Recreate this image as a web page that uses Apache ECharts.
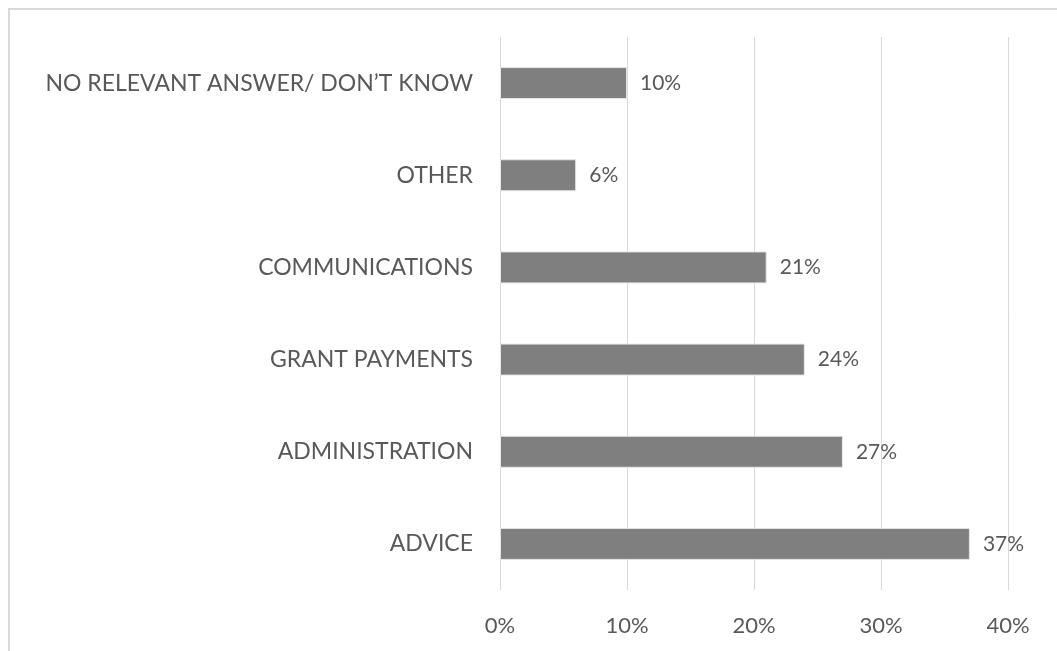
<!DOCTYPE html>
<html>
<head>
<meta charset="utf-8">
<script src="https://cdn.jsdelivr.net/npm/echarts@6/dist/echarts.min.js"></script>
<style>
  html, body { margin: 0; padding: 0; background: #fff; }
  #chart { width: 1057px; height: 651px; }
</style>
</head>
<body>
<div id="chart"></div>
<script>
// Categories listed bottom-to-top (ECharts category y-axis starts at the bottom)
const categories = [
  'ADVICE',
  'ADMINISTRATION',
  'GRANT PAYMENTS',
  'COMMUNICATIONS',
  'OTHER',
  'NO RELEVANT ANSWER/ DON\u2019T KNOW'
];
// Share of responses, in percent
const values = [37, 27, 24, 21, 6, 10];
// Value axis ticks, in percent
const tickValues = [0, 10, 20, 30, 40];

const textColor = '#595959';
const fontFamily = 'Lato, "Open Sans", sans-serif';

const chart = echarts.init(document.getElementById('chart'), null, { renderer: 'canvas' });

chart.setOption({
  animation: false,
  backgroundColor: '#ffffff',
  graphic: [{
    type: 'rect',
    shape: { x: 9, y: 9, width: 1200, height: 800 },
    style: { fill: 'none', stroke: '#d9d9d9', lineWidth: 2 },
    silent: true
  }],
  grid: { left: 500, right: 49, top: 37, bottom: 61, containLabel: false },
  xAxis: {
    type: 'value',
    min: tickValues[0],
    max: tickValues[tickValues.length - 1],
    interval: tickValues[1] - tickValues[0],
    axisLine: { show: false },
    axisTick: { show: false },
    splitLine: { show: true, lineStyle: { color: '#d9d9d9', width: 1 } },
    axisLabel: {
      formatter: v => v + '%',
      color: textColor,
      fontFamily: fontFamily,
      fontSize: 22,
      margin: 25
    }
  },
  yAxis: {
    type: 'category',
    data: categories,
    axisLine: { show: false },
    axisTick: { show: false },
    splitLine: { show: false },
    axisLabel: {
      color: textColor,
      fontFamily: fontFamily,
      fontSize: 23,
      margin: 27
    }
  },
  series: [{
    type: 'bar',
    data: values,
    barWidth: 32,
    itemStyle: { color: '#7f7f7f', borderColor: '#e6e6e6', borderWidth: 1 },
    label: {
      show: true,
      position: 'right',
      distance: 13,
      formatter: p => p.value + '%',
      color: textColor,
      fontFamily: fontFamily,
      fontSize: 21
    }
  }]
});
</script>
</body>
</html>
